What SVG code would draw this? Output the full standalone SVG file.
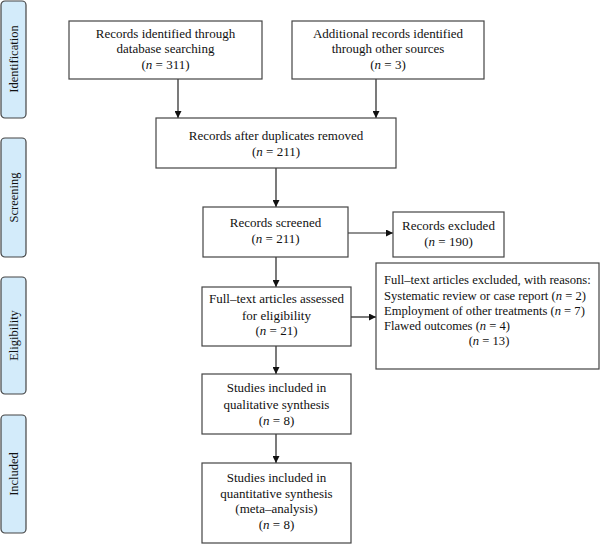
<svg xmlns="http://www.w3.org/2000/svg" width="600" height="544" viewBox="0 0 600 544">
<style>
.box{fill:#fff;stroke:#444;stroke-width:1.2}
.side{fill:#d3ebfa;stroke:#444;stroke-width:1.2}
text{font-family:"Liberation Serif","Times New Roman",serif;font-size:13px;fill:#111}
.c{text-anchor:middle}
.sm{font-size:12.6px}
.lbl{text-anchor:middle;font-size:12.5px}
.con{stroke:#222;stroke-width:1.2;fill:none;marker-end:url(#ah)}
</style>
<defs>
<marker id="ah" viewBox="0 0 10 10" refX="10" refY="5" markerWidth="7" markerHeight="7" markerUnits="userSpaceOnUse" orient="auto">
<path d="M0,0 L10,5 L0,10 z" fill="#111"/>
</marker>
</defs>
<rect width="600" height="544" fill="#fff"/>
<g id="side-identification"><rect class="side" x="1" y="1" width="25" height="117" rx="4"/><text class="lbl" transform="translate(18,59) rotate(-90)">Identification</text></g>
<g id="side-screening"><rect class="side" x="1" y="138" width="25" height="119" rx="4"/><text class="lbl" transform="translate(18,197.5) rotate(-90)">Screening</text></g>
<g id="side-eligibility"><rect class="side" x="1" y="277" width="25" height="117" rx="4"/><text class="lbl" transform="translate(18,335.5) rotate(-90)">Eligibility</text></g>
<g id="side-included"><rect class="side" x="1" y="415" width="25" height="118" rx="4"/><text class="lbl" transform="translate(18,474) rotate(-90)">Included</text></g>

<g id="connectors">
<line class="con" x1="178" y1="79" x2="178" y2="118"/>
<line class="con" x1="376" y1="79" x2="376" y2="118"/>
<line class="con" x1="276" y1="168" x2="276" y2="207"/>
<line class="con" x1="348" y1="233" x2="393" y2="233"/>
<line class="con" x1="276" y1="257" x2="276" y2="287"/>
<line class="con" x1="351" y1="317" x2="376" y2="317"/>
<line class="con" x1="276" y1="346" x2="276" y2="374"/>
<line class="con" x1="276" y1="434" x2="276" y2="463"/>
</g>

<g id="n1"><rect class="box" x="69" y="21" width="193" height="58"/>
<text class="c" x="165.5" y="37.5">Records identified through</text>
<text class="c" x="165.5" y="53">database searching</text>
<text class="c" x="165.5" y="68.5">(<tspan font-style="italic">n</tspan> = 311)</text></g>

<g id="n2"><rect class="box" x="292" y="21" width="192" height="58"/>
<text class="c" x="388" y="37.5">Additional records identified</text>
<text class="c" x="388" y="53">through other sources</text>
<text class="c" x="388" y="68.5">(<tspan font-style="italic">n</tspan> = 3)</text></g>

<g id="n3"><rect class="box" x="156" y="118" width="240" height="50"/>
<text class="c" x="276" y="139.5">Records after duplicates removed</text>
<text class="c" x="276" y="156">(<tspan font-style="italic">n</tspan> = 211)</text></g>

<g id="n4"><rect class="box" x="203" y="207" width="145" height="50"/>
<text class="c" x="275.5" y="227">Records screened</text>
<text class="c" x="275.5" y="243">(<tspan font-style="italic">n</tspan> = 211)</text></g>

<g id="n5"><rect class="box" x="393" y="212" width="111" height="45"/>
<text class="c" x="448.5" y="230">Records excluded</text>
<text class="c" x="448.5" y="246">(<tspan font-style="italic">n</tspan> = 190)</text></g>

<g id="n6"><rect class="box" x="202" y="287" width="149" height="59"/>
<text class="c" x="276.5" y="303">Full–text articles assessed</text>
<text class="c" x="276.5" y="319.5">for eligibility</text>
<text class="c" x="276.5" y="335">(<tspan font-style="italic">n</tspan> = 21)</text></g>

<g id="n7"><rect class="box" x="376" y="263" width="223" height="106"/>
<text class="sm" x="384" y="284">Full–text articles excluded, with reasons:</text>
<text class="sm" x="384" y="300">Systematic review or case report (<tspan font-style="italic">n</tspan> = 2)</text>
<text class="sm" x="384" y="315">Employment of other treatments (<tspan font-style="italic">n</tspan> = 7)</text>
<text class="sm" x="384" y="330">Flawed outcomes (<tspan font-style="italic">n</tspan> = 4)</text>
<text class="c sm" x="489" y="345">(<tspan font-style="italic">n</tspan> = 13)</text></g>

<g id="n8"><rect class="box" x="202" y="374" width="149" height="60"/>
<text class="c" x="276.5" y="392">Studies included in</text>
<text class="c" x="276.5" y="409">qualitative synthesis</text>
<text class="c" x="276.5" y="425">(<tspan font-style="italic">n</tspan> = 8)</text></g>

<g id="n9"><rect class="box" x="202" y="463" width="149" height="80"/>
<text class="c" x="276.5" y="482">Studies included in</text>
<text class="c" x="276.5" y="498">quantitative synthesis</text>
<text class="c" x="276.5" y="513">(meta–analysis)</text>
<text class="c" x="276.5" y="529">(<tspan font-style="italic">n</tspan> = 8)</text></g>
</svg>
